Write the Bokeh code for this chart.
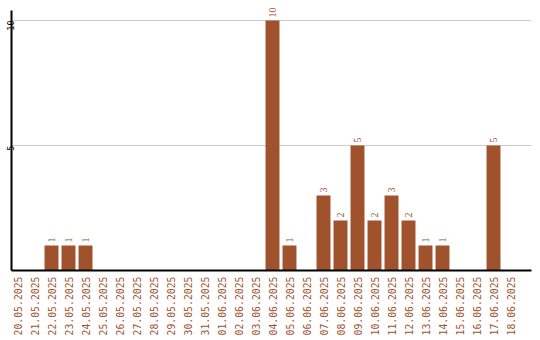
import math
from bokeh.plotting import figure
from bokeh.models import Range1d, FixedTicker, ColumnDataSource, LabelSet
from bokeh.embed import file_html
from bokeh.resources import INLINE

dates = ["20.05.2025", "21.05.2025", "22.05.2025", "23.05.2025", "24.05.2025",
         "25.05.2025", "26.05.2025", "27.05.2025", "28.05.2025", "29.05.2025",
         "30.05.2025", "31.05.2025", "01.06.2025", "02.06.2025", "03.06.2025",
         "04.06.2025", "05.06.2025", "06.06.2025", "07.06.2025", "08.06.2025",
         "09.06.2025", "10.06.2025", "11.06.2025", "12.06.2025", "13.06.2025",
         "14.06.2025", "15.06.2025", "16.06.2025", "17.06.2025", "18.06.2025"]
counts = [0, 0, 1, 1, 1, 0, 0, 0, 0, 0, 0, 0, 0, 0, 0,
          10, 1, 0, 3, 2, 5, 2, 3, 2, 1, 1, 0, 0, 5, 0]
y_ticks = [5, 10]

COLOR = "#A0522D"
FONT = "DejaVu Sans Mono"

xs = list(range(len(dates)))
src = ColumnDataSource(dict(x=xs, top=counts))
lab_x = [x for x, c in zip(xs, counts) if c > 0]
lab_y = [c for c in counts if c > 0]
lab_t = [str(c) for c in counts if c > 0]
lsrc = ColumnDataSource(dict(x=lab_x, y=lab_y, t=lab_t))

p = figure(frame_width=520, frame_height=268, output_backend="svg", toolbar_location=None,
           x_range=Range1d(-0.353, 30.235), y_range=Range1d(0, 10.72),
           min_border_left=11, min_border_right=9, min_border_top=2, min_border_bottom=70)
p.outline_line_color = None
p.background_fill_color = "white"
p.border_fill_color = "white"

p.vbar(x="x", top="top", width=0.82, bottom=0, source=src,
       fill_color=COLOR, line_color=None)
labels = LabelSet(x="x", y="y", text="t", source=lsrc, angle=math.pi / 2,
                  text_align="left", text_baseline="middle", y_offset=3,
                  text_color=COLOR, text_font=FONT, text_font_size="10px")
p.add_layout(labels)

p.xgrid.visible = False
p.ygrid.ticker = FixedTicker(ticks=y_ticks)
p.ygrid.grid_line_color = "#cccccc"
p.ygrid.grid_line_width = 1

xa = p.xaxis[0]
xa.ticker = FixedTicker(ticks=xs)
xa.major_label_overrides = {i: d for i, d in enumerate(dates)}
xa.major_label_orientation = math.pi / 2
xa.major_label_text_color = COLOR
xa.major_label_text_font = FONT
xa.major_label_text_font_size = "9.8px"
xa.major_label_standoff = 6
xa.major_tick_out = 0
xa.major_tick_in = 0
xa.minor_tick_out = 0
xa.minor_tick_in = 0
xa.axis_line_width = 2
xa.axis_line_color = "black"

ya = p.yaxis[0]
ya.ticker = FixedTicker(ticks=y_ticks)
ya.bounds = (0, 10.4)
ya.major_label_orientation = math.pi / 2
ya.major_label_text_color = "black"
ya.major_label_text_font = FONT
ya.major_label_text_font_size = "8.5px"
ya.major_label_standoff = 1
ya.major_tick_out = 0
ya.major_tick_in = 0
ya.minor_tick_out = 0
ya.minor_tick_in = 0
ya.axis_line_width = 2
ya.axis_line_color = "black"

open("out.html", "w").write(file_html(p, INLINE))
